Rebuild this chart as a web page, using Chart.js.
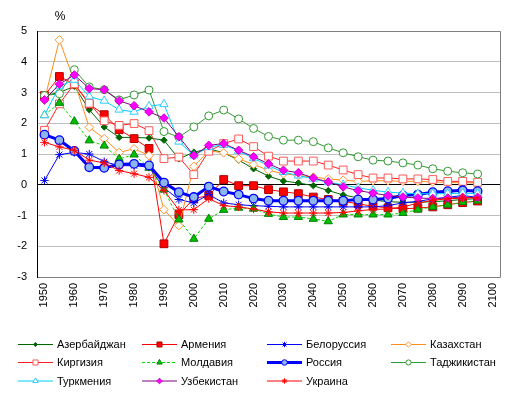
<!DOCTYPE html>
<html><head><meta charset="utf-8">
<script src="https://cdn.jsdelivr.net/npm/chart.js@4/dist/chart.umd.min.js"></script>
<style>html,body{margin:0;padding:0;background:#fff}#wrap{width:516px;height:395px;position:relative}</style>
</head><body><div id="wrap"><canvas id="c"></canvas></div>
<script>
// ---- data ----
const years = ['1950','1955','1960','1965','1970','1975','1980','1985','1990','1995','2000','2005','2010','2015','2020','2025','2030','2035','2040','2045','2050','2055','2060','2065','2070','2075','2080','2085','2090','2095','2100'];
const seriesNames = ['Азербайджан','Армения','Белоруссия','Казахстан','Киргизия','Молдавия','Россия','Таджикистан','Туркмения','Узбекистан','Украина'];
const azerbaijan = [2.9,3.0,3.2,2.44,1.88,1.54,1.54,1.52,1.45,0.84,1.06,1.17,1.04,0.8,0.52,0.28,0.12,0.06,-0.03,-0.19,-0.33,-0.43,-0.5,-0.55,-0.57,-0.57,-0.55,-0.52,-0.48,-0.45];
const armenia = [2.9,3.52,3.27,2.62,2.28,1.79,1.5,1.18,-1.92,-0.97,-0.45,-0.35,0.17,-0.03,-0.03,-0.16,-0.23,-0.29,-0.4,-0.48,-0.54,-0.62,-0.7,-0.75,-0.78,-0.76,-0.72,-0.65,-0.58,-0.53];
const belarus = [0.14,0.98,1.05,1.0,0.75,0.62,0.62,0.57,-0.1,-0.48,-0.59,-0.32,-0.59,-0.65,-0.68,-0.7,-0.72,-0.72,-0.72,-0.72,-0.72,-0.72,-0.72,-0.68,-0.59,-0.54,-0.46,-0.41,-0.35,-0.41];
const kazakhstan = [2.75,4.71,3.35,1.87,1.5,1.05,1.17,0.95,-0.81,-1.33,0.6,1.1,1.04,0.84,0.66,0.47,0.36,0.3,0.25,0.19,0.15,0.11,0.13,0.13,0.11,0.11,0.09,0.08,0.06,0.06];
const kirgizia = [1.77,2.63,3.28,2.65,2.08,1.93,1.99,1.76,0.85,0.9,0.33,1.09,1.34,1.49,1.24,0.93,0.77,0.77,0.77,0.64,0.48,0.33,0.22,0.22,0.19,0.19,0.17,0.11,0.11,0.08];
const moldova = [2.26,2.66,2.06,1.44,1.27,0.84,0.98,0.55,-0.16,-1.13,-1.76,-1.11,-0.82,-0.75,-0.78,-0.95,-1.05,-1.05,-1.11,-1.19,-0.97,-0.97,-0.97,-0.97,-0.92,-0.81,-0.72,-0.65,-0.57,-0.52];
const russia = [1.63,1.45,1.1,0.57,0.55,0.66,0.68,0.63,0.07,-0.24,-0.4,-0.06,-0.22,-0.32,-0.45,-0.52,-0.52,-0.52,-0.52,-0.52,-0.52,-0.48,-0.48,-0.45,-0.35,-0.32,-0.24,-0.21,-0.18,-0.21];
const tajikistan = [2.9,2.96,3.74,3.18,3.09,2.76,2.92,3.08,1.73,1.55,1.88,2.24,2.43,2.14,1.83,1.57,1.45,1.45,1.4,1.2,1.04,0.91,0.8,0.77,0.71,0.64,0.52,0.44,0.39,0.35];
const turkmenia = [2.26,3.2,3.41,2.87,2.73,2.44,2.37,2.55,2.62,1.4,0.95,1.22,1.3,1.1,0.86,0.62,0.41,0.3,0.19,0.08,0.0,-0.1,-0.18,-0.24,-0.27,-0.29,-0.29,-0.29,-0.27,-0.29];
const uzbekistan = [2.76,3.27,3.57,3.13,3.09,2.73,2.57,2.37,2.17,1.56,0.95,1.28,1.34,1.12,0.91,0.68,0.47,0.39,0.22,0.09,-0.07,-0.19,-0.27,-0.35,-0.4,-0.43,-0.45,-0.43,-0.41,-0.41];
const ukraine = [1.38,1.23,1.12,0.8,0.71,0.46,0.36,0.24,-0.18,-0.82,-0.81,-0.45,-0.68,-0.72,-0.79,-0.88,-0.92,-0.92,-0.92,-0.92,-0.9,-0.85,-0.8,-0.79,-0.72,-0.6,-0.5,-0.46,-0.43,-0.43];
const yMin = -3, yMax = 5, yStep = 1;
const unitLabel = '%';

const seriesValues = [azerbaijan, armenia, belarus, kazakhstan, kirgizia, moldova, russia, tajikistan, turkmenia, uzbekistan, ukraine];

// ---- styles ----
const styles = [
 {line:'#006600', width:1, point:'rectRot', r:3.2, fill:'#006600', stroke:'#006600', pbw:1},
 {line:'#FF0000', width:1, point:'rect', r:5.5, fill:'#FF0000', stroke:'#B00000', pbw:1},
 {line:'#0000FF', width:1, point:'star', r:4.2, fill:'#0000FF', stroke:'#0000FF', pbw:1},
 {line:'#FF8C1A', width:1, point:'rectRot', r:4.3, fill:'#FFFFFF', stroke:'#FF9933', pbw:1},
 {line:'#FF2020', width:1, point:'rect', r:5.5, fill:'#FFFFFF', stroke:'#FF5A5A', pbw:1},
 {line:'#00DD00', width:1, dash:[3,2], point:'triangle', r:4.8, fill:'#00C000', stroke:'#008000', pbw:1},
 {line:'#0000FF', width:3, point:'circle', r:4.3, fill:'#8DB6EE', stroke:'#0000FF', pbw:1.3},
 {line:'#339933', width:1, point:'circle', r:4, fill:'#FFFFFF', stroke:'#339933', pbw:1},
 {line:'#00CCFF', width:1, point:'triangle', r:4.8, fill:'#FFFFFF', stroke:'#33CCFF', pbw:1},
 {line:'#800080', width:1, point:'rectRot', r:4.3, fill:'#FF00FF', stroke:'#CC00CC', pbw:1},
 {line:'#FF0000', width:1, point:'star', r:4.2, fill:'#FF0000', stroke:'#FF0000', pbw:1}
];
const FONT = "'Liberation Sans', Arial, sans-serif";

const datasets = seriesNames.map((name, i) => {
  const s = styles[i];
  return {
    label: name,
    data: seriesValues[i],
    borderColor: s.line,
    borderWidth: s.width,
    borderDash: s.dash || [],
    backgroundColor: s.fill,
    pointStyle: s.point,
    pointRadius: s.r,
    pointBackgroundColor: s.fill,
    pointBorderColor: s.stroke,
    pointBorderWidth: s.pbw,
    tension: 0,
    fill: false,
    order: seriesNames.length - i
  };
});

function drawMarker(ctx, style, r, x, y) {
  ctx.beginPath();
  if (style === 'circle') {
    ctx.arc(x, y, r, 0, Math.PI * 2);
    ctx.closePath(); ctx.fill(); ctx.stroke();
  } else if (style === 'rect') {
    const s = r * Math.SQRT1_2;
    ctx.rect(x - s, y - s, 2 * s, 2 * s); ctx.fill(); ctx.stroke();
  } else if (style === 'rectRot') {
    ctx.moveTo(x, y - r); ctx.lineTo(x + r, y); ctx.lineTo(x, y + r); ctx.lineTo(x - r, y); ctx.closePath();
    ctx.fill(); ctx.stroke();
  } else if (style === 'triangle') {
    for (let k = 0; k < 3; k++) {
      const a = -Math.PI / 2 + k * 2 * Math.PI / 3;
      const px = x + Math.cos(a) * r, py = y + Math.sin(a) * r;
      if (k === 0) ctx.moveTo(px, py); else ctx.lineTo(px, py);
    }
    ctx.closePath(); ctx.fill(); ctx.stroke();
  } else if (style === 'star') {
    for (let k = 0; k < 4; k++) {
      const a = k * Math.PI / 4;
      ctx.moveTo(x - Math.cos(a) * r, y - Math.sin(a) * r);
      ctx.lineTo(x + Math.cos(a) * r, y + Math.sin(a) * r);
    }
    ctx.stroke();
  }
}

const framePlugin = {
  id: 'frame',
  beforeDatasetsDraw(chart) {
    const {ctx, chartArea: a} = chart;
    ctx.save();
    ctx.lineWidth = 1;
    ctx.strokeStyle = '#808080';
    ctx.beginPath();
    ctx.moveTo(a.left, a.top + 0.5); ctx.lineTo(a.right + 0.5, a.top + 0.5);
    ctx.lineTo(a.right + 0.5, a.bottom + 0.5); ctx.lineTo(a.left, a.bottom + 0.5);
    ctx.stroke();
    ctx.strokeStyle = '#000000';
    ctx.beginPath();
    ctx.moveTo(a.left + 0.5, a.top); ctx.lineTo(a.left + 0.5, a.bottom + 1);
    ctx.stroke();
    ctx.restore();
  },
  afterDraw(chart) {
    const ctx = chart.ctx;
    ctx.save();
    ctx.fillStyle = '#000';
    ctx.font = '12px ' + FONT;
    ctx.textAlign = 'center';
    ctx.textBaseline = 'middle';
    ctx.fillText(unitLabel, 60, 17);
    // legend
    const colX = [18, 142, 267, 391];
    const rowY = [344.5, 362.5, 381];
    ctx.font = '11px ' + FONT;
    ctx.textAlign = 'left';
    chart.data.datasets.forEach((ds, i) => {
      const s = styles[i];
      const x0 = colX[i % 4], y0 = rowY[Math.floor(i / 4)];
      ctx.save();
      ctx.strokeStyle = s.line;
      ctx.lineWidth = s.width;
      ctx.setLineDash(s.dash || []);
      ctx.beginPath();
      ctx.moveTo(x0, y0); ctx.lineTo(x0 + 35, y0);
      ctx.stroke();
      ctx.setLineDash([]);
      ctx.fillStyle = s.fill;
      ctx.strokeStyle = s.stroke;
      ctx.lineWidth = 1;
      drawMarker(ctx, s.point, s.r * 0.65, x0 + 17.5, y0);
      ctx.restore();
      ctx.fillStyle = '#000';
      ctx.fillText(ds.label, x0 + 39, y0 + 0.5);
    });
    ctx.restore();
  }
};

new Chart(document.getElementById('c'), {
  type: 'line',
  data: { labels: years, datasets },
  plugins: [framePlugin],
  options: {
    responsive: true,
    maintainAspectRatio: false,
    animation: false,
    layout: { padding: { left: 0, top: 31, right: 16, bottom: 78 } },
    plugins: { legend: { display: false }, tooltip: { enabled: false }, title: { display: false } },
    scales: {
      x: {
        type: 'category',
        offset: true,
        grid: { display: false, drawTicks: false, offset: true },
        border: { display: false },
        afterFit(scale) { scale.height = 40; },
        ticks: {
          autoSkip: false, maxRotation: 90, minRotation: 90, padding: 6,
          color: '#000', font: { family: FONT, size: 11 },
          callback: function (val) { const l = this.getLabelForValue(val); return Number(l) % 10 === 0 ? l : ''; }
        }
      },
      y: {
        min: yMin, max: yMax,
        afterFit(scale) { scale.width = 37; },
        grid: {
          drawTicks: false,
          color: (c) => (c.tick && c.tick.value === 0) ? '#000000' : '#BFBFBF',
          lineWidth: 1
        },
        border: { display: false },
        ticks: { stepSize: yStep, padding: 10, color: '#000', font: { family: FONT, size: 11 } }
      }
    }
  }
});
</script></body></html>
